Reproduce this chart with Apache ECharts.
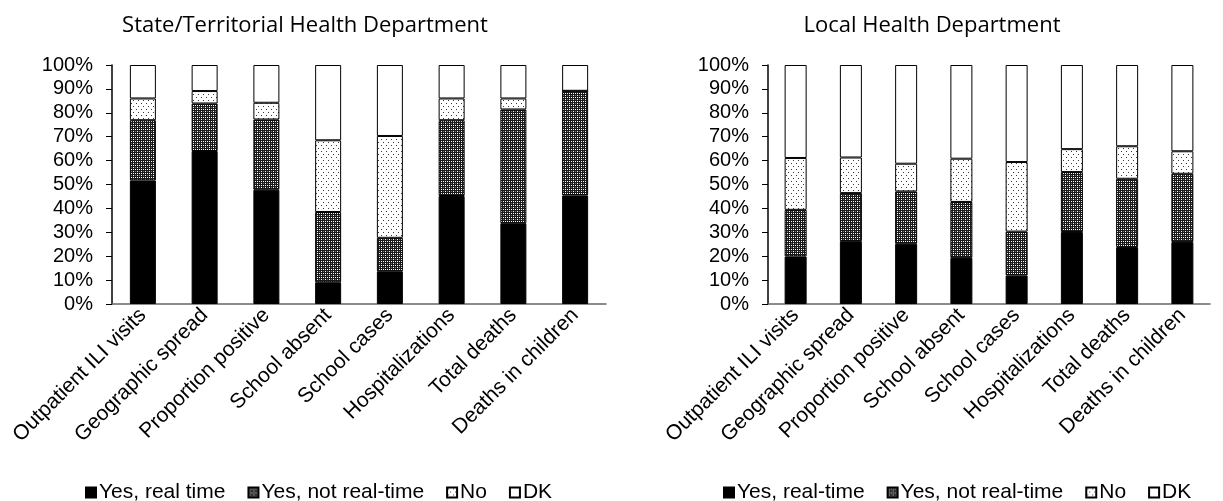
<!DOCTYPE html>
<html><head><meta charset="utf-8">
<script src="https://cdn.jsdelivr.net/npm/echarts@6/dist/echarts.min.js"></script>
<style>html,body{margin:0;padding:0;background:#fff}#c{width:1223px;height:501px}</style>
</head><body><div id="c"></div>
<script>
const categories = ['Outpatient ILI visits','Geographic spread','Proportion positive','School absent','School cases','Hospitalizations','Total deaths','Deaths in children'];
const yTickLabels = ['0%','10%','20%','30%','40%','50%','60%','70%','80%','90%','100%'];

const stateRealTime    = [51.7, 64.0, 47.8, 9.1, 13.7, 45.2, 33.8, 45.4];
const stateNotRealTime = [25.2, 19.9, 29.4, 29.4, 14.0, 31.7, 47.6, 43.8];
const stateNo          = [9.1, 5.2, 7.0, 30.0, 42.6, 9.1, 4.6, 0];
const stateDK          = [14.0, 10.9, 15.8, 31.5, 29.7, 14.0, 14.0, 10.8];

const localRealTime    = [19.9, 26.3, 25.2, 19.3, 11.9, 30.1, 23.8, 25.9];
const localNotRealTime = [19.5, 20.1, 21.9, 23.4, 18.4, 25.1, 28.6, 28.6];
const localNo          = [21.7, 14.9, 11.6, 18.1, 29.1, 9.6, 13.6, 9.4];
const localDK          = [38.9, 38.7, 41.3, 39.2, 40.6, 35.2, 34.0, 36.1];

const stateTitle = 'State/Territorial Health Department';
const localTitle = 'Local Health Department';
const stateNames = ['Yes, real time','Yes, not real-time','No','DK'];
const localNames = ['Yes, real-time','Yes, not real-time','No','DK'];

function makePattern(kind){
  const c = document.createElement('canvas');
  if(kind==='cross'){
    c.width=4;c.height=4;const g=c.getContext('2d');
    g.fillStyle='#fff';g.fillRect(0,0,4,4);
    g.fillStyle='#1a1a1a';
    g.fillRect(0,0,4,1);g.fillRect(0,2,4,1);
    g.fillRect(0,0,1,4);g.fillRect(2,0,1,4);
    g.fillStyle='#777';g.fillRect(3,3,1,1);
  } else {
    c.width=5;c.height=6;const g=c.getContext('2d');
    g.fillStyle='#fff';g.fillRect(0,0,5,6);
    g.fillStyle='#3a3a3a';
    g.fillRect(1,1,1,1);g.fillRect(3,4,1,1);
  }
  return {image:c, repeat:'repeat'};
}
const crossPat = makePattern('cross');
const dotPat = makePattern('dot');
const fills = ['#000', crossPat, dotPat, '#fff'];

const font = "'Liberation Sans', Arial, sans-serif";
const chart = echarts.init(document.getElementById('c'), null, {renderer:'canvas'});

function mkSeries(names, arrays, idx){
  return arrays.map((d,i)=>({
    name:names[i], type:'bar', stack:'s'+idx, xAxisIndex:idx, yAxisIndex:idx,
    data:d, barWidth: idx===0 ? 26 : 22,
    itemStyle:{color:fills[i], borderColor:'#000', borderWidth:1},
    emphasis:{disabled:true}
  }));
}
const series = mkSeries(stateNames,[stateRealTime,stateNotRealTime,stateNo,stateDK],0)
  .concat(mkSeries(localNames,[localRealTime,localNotRealTime,localNo,localDK],1));

function xAx(idx){return {type:'category', gridIndex:idx, data:categories,
  axisLine:{lineStyle:{color:'#666',width:1.5}}, axisTick:{show:false},
  axisLabel:{rotate:45, interval:0, color:'#000', fontFamily:font, fontSize:21, margin:8}};}
function yAx(idx){return {type:'value', gridIndex:idx, min:0, max:100, interval:10,
  axisLine:{show:true, lineStyle:{color:'#000',width:1.5}},
  axisTick:{show:true, length:6, lineStyle:{color:'#000'}},
  splitLine:{show:false},
  axisLabel:{color:'#000', fontFamily:font, fontSize:20, margin:19,
    formatter:(v)=>yTickLabels[Math.round(v/10)]}};}

const legendBase = {itemWidth:10, itemHeight:10, itemGap:22, icon:'rect', selectedMode:false,
  textStyle:{fontFamily:font, fontSize:21, color:'#000', padding:[0,0,0,-2]}};

chart.setOption({
  animation:false,
  title:[
    {text:stateTitle, left:300, textAlign:'center', top:10, textStyle:{fontFamily:'Open Sans, sans-serif', fontWeight:'normal', fontSize:22, color:'#000'}},
    {text:localTitle, left:927, textAlign:'center', top:10, textStyle:{fontFamily:'Open Sans, sans-serif', fontWeight:'normal', fontSize:22, color:'#000'}}
  ],
  legend:[
    Object.assign({data:stateNames, left:80, top:477}, legendBase),
    Object.assign({data:localNames, left:718, top:477}, legendBase)
  ],
  grid:[
    {left:112, top:65, width:494, height:239, containLabel:false},
    {left:768, top:65, width:442, height:239, containLabel:false}
  ],
  xAxis:[xAx(0),xAx(1)],
  yAxis:[yAx(0),yAx(1)],
  series:series
});
</script></body></html>
